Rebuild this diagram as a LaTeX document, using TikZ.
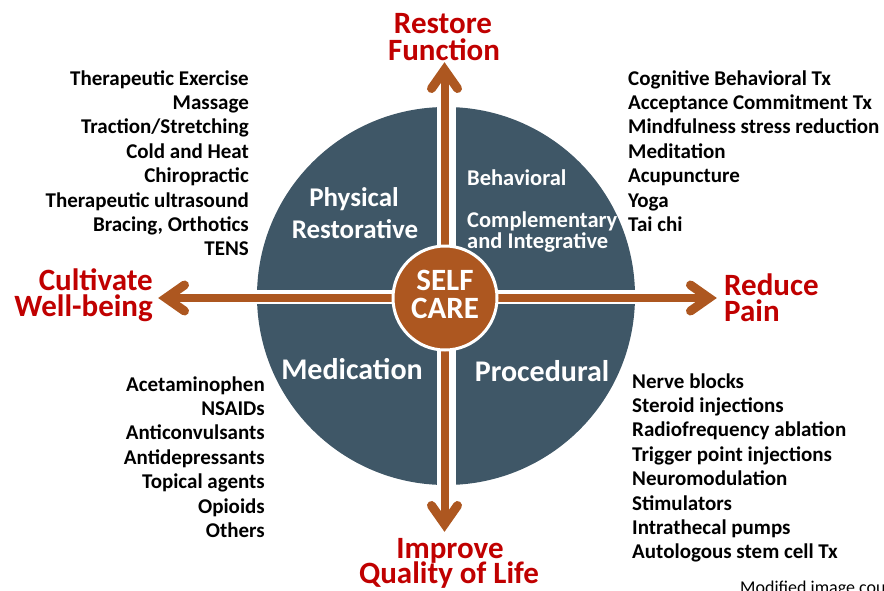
\documentclass[tikz,border=0pt]{standalone}
\usepackage{fontspec}
\setmainfont{Carlito}
\usetikzlibrary{calc}
\definecolor{slate}{HTML}{3F5767}
\definecolor{rust}{HTML}{AD5720}
\definecolor{goalred}{HTML}{C00000}
\begin{document}
\begin{tikzpicture}[x=1pt,y=-1pt,
  lst/.style={inner sep=0, font=\fontsize{21}{24.4}\selectfont\bfseries},
  goal/.style={inner sep=0, text=goalred, font=\fontsize{31}{27}\selectfont\bfseries},
  quad/.style={inner sep=0, text=white, font=\fontsize{#1}{#1}\selectfont\bfseries},
  shaft/.style={rust, line width=8pt, shorten <=8pt, shorten >=8pt},
  head/.style={rust, line width=9pt, line cap=round, line join=miter}]
\path[use as bounding box, clip] (0,0) rectangle (884,590);

% big disc with white gaps
\fill[slate] (446,296) circle (189);
\fill[white] (437,90) rectangle (456,500);
\fill[white] (240,290) rectangle (650,304);

% arrow ends
\coordinate (T) at (444.5,62);
\coordinate (B) at (444.5,532);
\coordinate (L) at (158,298);
\coordinate (R) at (717,298);

\draw[shaft] (T) -- (B);
\draw[shaft] (L) -- (R);
\draw[head] ($(T)+(-13,26.5)$) -- ($(T)+(0,8)$) -- ($(T)+(13,26.5)$);
\draw[head] ($(B)+(-13,-26.5)$) -- ($(B)+(0,-8)$) -- ($(B)+(13,-26.5)$);
\draw[head] ($(L)+(26.5,-13)$) -- ($(L)+(8,0)$) -- ($(L)+(26.5,13)$);
\draw[head] ($(R)+(-26.5,-13)$) -- ($(R)+(-8,0)$) -- ($(R)+(-26.5,13)$);

% centre
\node[circle, fill=rust, draw=white, line width=3pt, minimum size=104pt, inner sep=0] (sc) at (445,298) {};
\node[quad=31, anchor=base] (self) at (445,290) {SELF};
\node[quad=31, anchor=base] (care) at (445,318) {CARE};

% quadrant labels
\node[quad=27, anchor=base] (phy1) at (354,206) {Physical};
\node[quad=27, anchor=base] (phy2) at (355,238) {Restorative};
\node[quad=22.5, anchor=base west] (beh) at (467,185) {Behavioral};
\node[quad=22.5, anchor=base west] (cmp1) at (467,227) {Complementary};
\node[quad=22.5, anchor=base west] (cmp2) at (467,248) {and Integrative};
\node[quad=30, anchor=base] (med) at (352,379) {Medication};
\node[quad=30, anchor=base] (proc) at (542,381) {Procedural};

% goals
\node[goal, anchor=base] (g1) at (443,33) {Restore};
\node[goal, anchor=base] (g2) at (444,60) {Function};
\node[goal, anchor=base east] (g3) at (153,290) {Cultivate};
\node[goal, anchor=base east] (g4) at (153,316) {Well-being};
\node[goal, anchor=base west] (g5) at (724,295) {Reduce};
\node[goal, anchor=base west] (g6) at (724,321) {Pain};
\node[goal, anchor=base] (g7) at (450,558) {Improve};
\node[goal, anchor=base] (g8) at (449,583) {Quality of Life};

% lists
\foreach \t [count=\i from 0] in {Therapeutic Exercise, Massage, Traction/Stretching, Cold and Heat, Chiropractic, Therapeutic ultrasound, {Bracing, Orthotics}, TENS}
  \node[lst, anchor=base east] (pl\i) at (249,85+24.4*\i) {\t};
\foreach \t [count=\i from 0] in {Cognitive Behavioral Tx, Acceptance Commitment Tx, Mindfulness stress reduction, Meditation, Acupuncture, Yoga, Tai chi}
  \node[lst, anchor=base west] (bl\i) at (628,85+24.4*\i) {\t};
\foreach \t [count=\i from 0] in {Acetaminophen, NSAIDs, Anticonvulsants, Antidepressants, Topical agents, Opioids, Others}
  \node[lst, anchor=base east] (ml\i) at (265,391+24.4*\i) {\t};
\foreach \t [count=\i from 0] in {Nerve blocks, Steroid injections, Radiofrequency ablation, Trigger point injections, Neuromodulation, Stimulators, Intrathecal pumps, Autologous stem cell Tx}
  \node[lst, anchor=base west] (rl\i) at (632,388+24.4*\i) {\t};

\node[inner sep=0, anchor=base west, font=\fontsize{18}{20}\selectfont] (note) at (740,593) {Modified image cou};
\end{tikzpicture}
\end{document}
